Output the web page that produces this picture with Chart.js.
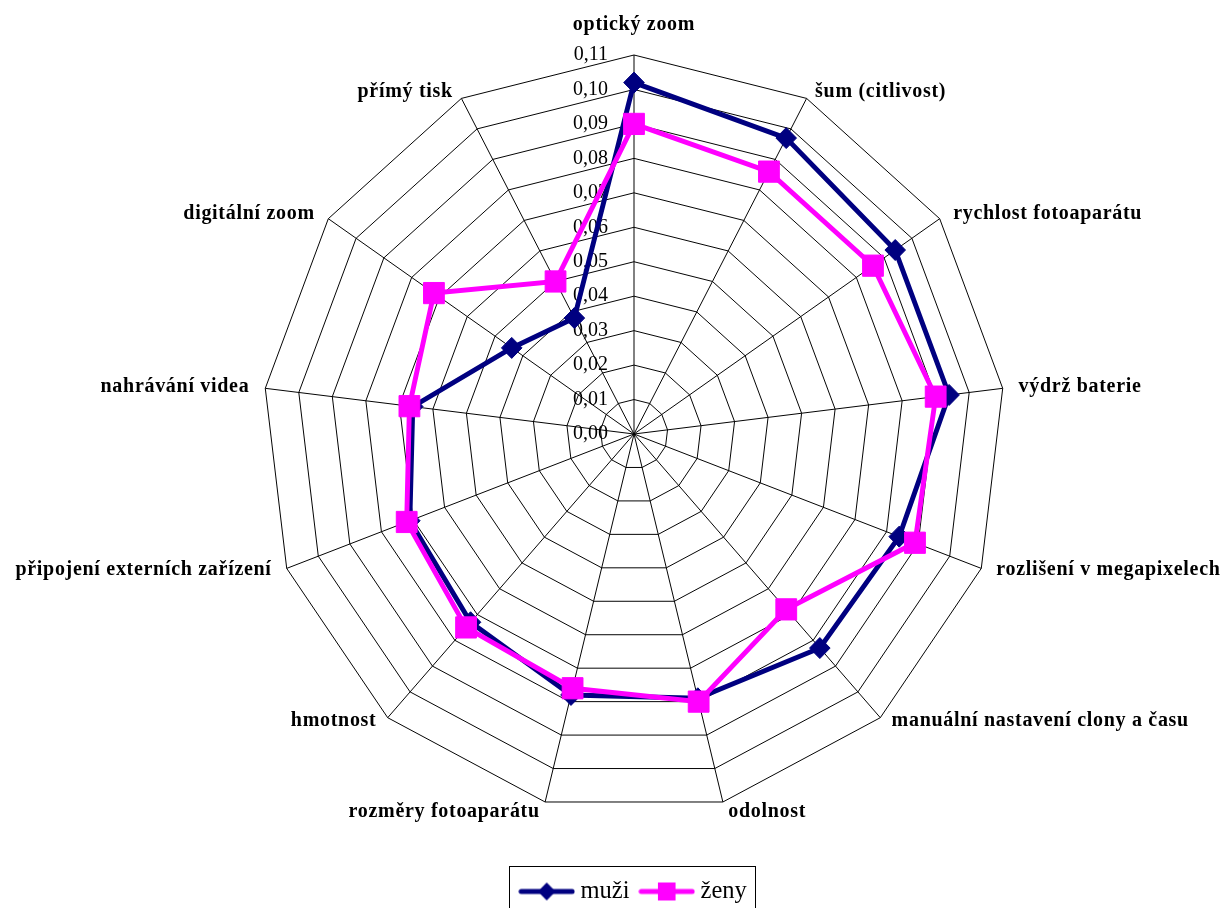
<!DOCTYPE html>
<html lang="cs">
<head>
<meta charset="utf-8">
<script src="https://cdn.jsdelivr.net/npm/chart.js@4.4.1/dist/chart.umd.min.js"></script>
<style>
  html, body { margin: 0; padding: 0; background: #fff; }
  canvas { display: block; }
</style>
</head>
<body>
<canvas id="radar" width="1227" height="908"></canvas>
<script>
// Categories, clockwise from the top
const categories = [
  'optický zoom',
  'šum (citlivost)',
  'rychlost fotoaparátu',
  'výdrž baterie',
  'rozlišení v megapixelech',
  'manuální nastavení clony a času',
  'odolnost',
  'rozměry fotoaparátu',
  'hmotnost',
  'připojení externích zařízení',
  'nahrávání videa',
  'digitální zoom',
  'přímý tisk'
];

const seriesNames = ['muži', 'ženy'];

// Share of importance per feature
const muzi = [0.102, 0.097, 0.094, 0.094, 0.084, 0.083, 0.079, 0.078, 0.073, 0.071, 0.066, 0.044, 0.038];
const zeny = [0.090, 0.086, 0.086, 0.090, 0.089, 0.068, 0.080, 0.076, 0.075, 0.072, 0.067, 0.072, 0.050];

const tickLabels = ['0,00', '0,01', '0,02', '0,03', '0,04', '0,05', '0,06', '0,07', '0,08', '0,09', '0,10', '0,11'];

// Frame geometry of the radar
const CX = 634, CY = 434, RADIUS = 379, SX = 0.98;
const NAVY = '#000080', MAGENTA = '#FF00FF';
const SERIF = '"Liberation Serif", "Times New Roman", serif';

// Legend swatch: a short line segment with the series marker in its middle
function legendIcon(color, shape) {
  const c = document.createElement('canvas');
  c.width = 58; c.height = 22;
  const g = c.getContext('2d');
  g.strokeStyle = color; g.lineWidth = 5; g.lineCap = 'round';
  g.beginPath(); g.moveTo(3, 11); g.lineTo(55, 11); g.stroke();
  g.fillStyle = color;
  g.beginPath();
  if (shape === 'diamond') {
    g.moveTo(29, 2); g.lineTo(38, 11); g.lineTo(29, 20); g.lineTo(20, 11); g.closePath();
  } else {
    g.rect(20, 2, 18, 18);
  }
  g.fill();
  return c;
}
const legendIcons = [legendIcon(NAVY, 'diamond'), legendIcon(MAGENTA, 'square')];

const toScreenX = x => CX + (x - CX) * SX;

const radarDecor = {
  id: 'radarDecor',
  beforeDraw(chart) {
    // slightly narrower horizontal scale for the grid, series and legend
    const ctx = chart.ctx;
    ctx.save();
    ctx.translate(CX, 0); ctx.scale(SX, 1); ctx.translate(-CX, 0);
  },
  beforeDatasetsDraw(chart) {
    // value labels along the top axis, left of it, under the series
    const ctx = chart.ctx, scale = chart.scales.r;
    ctx.save();
    ctx.translate(CX, 0); ctx.scale(1 / SX, 1); ctx.translate(-CX, 0);
    ctx.font = '20px ' + SERIF;
    ctx.fillStyle = '#000';
    ctx.textAlign = 'right';
    ctx.textBaseline = 'middle';
    scale.ticks.forEach((t, i) => {
      const d = scale.getDistanceFromCenterForValue(t.value);
      ctx.fillText(tickLabels[i], scale.xCenter - 26, scale.yCenter - d);
    });
    ctx.restore();
  },
  afterDatasetsDraw(chart) {
    chart.ctx.restore();
  },
  afterDraw(chart) {
    const ctx = chart.ctx, scale = chart.scales.r;
    // category labels around the outer ring
    ctx.save();
    ctx.font = 'bold 20px ' + SERIF;
    try { ctx.letterSpacing = '0.7px'; } catch (e) {}
    ctx.fillStyle = '#000';
    ctx.textBaseline = 'middle';
    chart.data.labels.forEach((label, i) => {
      const p = scale.getPointPosition(i, scale.drawingArea);
      const vx = toScreenX(p.x), vy = p.y;
      const a = scale.getIndexAngle(i);
      const s = Math.sin(a), c = Math.cos(a);
      let x, y;
      if (Math.abs(s) < 0.01) {
        ctx.textAlign = 'center';
        x = vx; y = vy - 30;
      } else {
        ctx.textAlign = s > 0 ? 'left' : 'right';
        x = vx + Math.sign(s) * (2 + 14 * Math.abs(s));
        y = c < -0.9 ? vy + 10 : vy - 6 * c - 1;
      }
      ctx.fillText(label, x, y);
    });
    ctx.restore();

    // frame around the legend
    const lg = chart.legend;
    if (lg && lg.legendHitBoxes && lg.legendHitBoxes.length) {
      const hb = lg.legendHitBoxes;
      const first = hb[0], last = hb[hb.length - 1];
      const left = toScreenX(first.left) - 16;
      const right = toScreenX(last.left + last.width) + 8;
      const top = first.top + first.height / 2 - 26;
      ctx.save();
      ctx.strokeStyle = '#000';
      ctx.lineWidth = 1;
      ctx.strokeRect(Math.round(left) + 0.5, Math.round(top) + 0.5, Math.round(right - left), 60);
      ctx.restore();
    }
  }
};

Chart.defaults.color = '#000';
Chart.defaults.font.family = SERIF;

new Chart(document.getElementById('radar'), {
  type: 'radar',
  data: {
    labels: categories,
    datasets: [
      {
        label: seriesNames[0],
        data: muzi,
        order: 1,
        borderColor: NAVY,
        backgroundColor: 'rgba(0,0,0,0)',
        borderWidth: 5,
        fill: false,
        clip: false,
        pointStyle: 'rectRot',
        pointRadius: 10.5,
        pointBorderWidth: 1,
        pointBackgroundColor: NAVY,
        pointBorderColor: NAVY
      },
      {
        label: seriesNames[1],
        data: zeny,
        order: 0,
        borderColor: MAGENTA,
        backgroundColor: 'rgba(0,0,0,0)',
        borderWidth: 5,
        fill: false,
        clip: false,
        pointStyle: 'rect',
        pointRadius: 15,
        pointBorderWidth: 1,
        pointBackgroundColor: MAGENTA,
        pointBorderColor: MAGENTA
      }
    ]
  },
  options: {
    responsive: false,
    animation: false,
    devicePixelRatio: 1,
    layout: { padding: { left: 45, right: 0, top: 0, bottom: -6 } },
    elements: { line: { tension: 0 } },
    scales: {
      r: {
        min: 0,
        max: 0.11,
        afterSetDimensions(scale) {
          scale.xCenter = CX;
          scale.yCenter = CY;
          scale.drawingArea = RADIUS;
        },
        ticks: {
          stepSize: 0.01,
          display: true,
          showLabelBackdrop: false,
          color: 'rgba(0,0,0,0)',
          font: { size: 20 }
        },
        grid: { color: '#000', lineWidth: 1, circular: false },
        angleLines: { display: true, color: '#000', lineWidth: 1 },
        pointLabels: { display: false }
      }
    },
    plugins: {
      tooltip: { enabled: false },
      legend: {
        position: 'bottom',
        labels: {
          usePointStyle: true,
          pointStyleWidth: 44,
          padding: 16,
          color: '#000',
          font: { family: SERIF, size: 25 },
          generateLabels(chart) {
            return chart.data.datasets.map((ds, i) => ({
              text: ds.label,
              pointStyle: legendIcons[i],
              fillStyle: ds.borderColor,
              strokeStyle: ds.borderColor,
              lineWidth: 0,
              hidden: false,
              datasetIndex: i
            }));
          }
        }
      }
    }
  },
  plugins: [radarDecor]
});
</script>
</body>
</html>
